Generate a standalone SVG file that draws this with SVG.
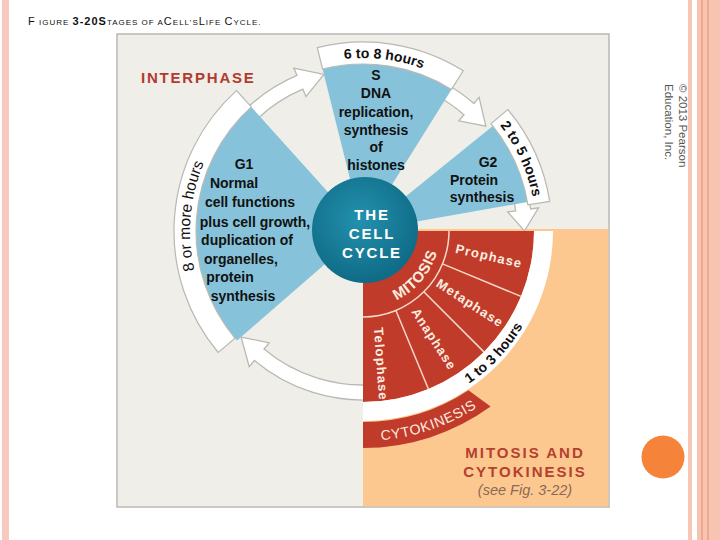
<svg xmlns="http://www.w3.org/2000/svg" width="720" height="540" viewBox="0 0 720 540">
<defs>
<style>
text{font-family:"Liberation Sans",Arial,sans-serif;}
.blk{font-size:14px;font-weight:bold;fill:#111;text-anchor:middle;}
.band{fill:#fff;stroke:#b9b9b3;stroke-width:1.2;}
.arrow{fill:#fff;stroke:#b9b9b3;stroke-width:1.3;stroke-linejoin:miter;}
.blue{fill:#86c3da;}
.red{fill:#c13b2a;}
.ph{font-size:13px;font-weight:bold;fill:#fbeee0;text-anchor:middle;letter-spacing:1.1px;}
.div{stroke:#f3d9c6;stroke-width:1.5;fill:none;}
.hrs{font-size:14px;font-weight:bold;fill:#111;}
.big{font-size:11px;}
.sm{font-size:8px;}
.head{font-size:15px;font-weight:bold;fill:#b5402f;letter-spacing:2px;}
.cc{font-size:15px;font-weight:bold;fill:#fff;text-anchor:middle;letter-spacing:1.8px;}
</style>
<radialGradient id="teal" cx="45%" cy="40%" r="60%">
<stop offset="0" stop-color="#2391ae"/>
<stop offset="1" stop-color="#0f6b86"/>
</radialGradient>
<path id="p8" d="M 213.2 317.5 A 173 173 0 0 1 230.5 119.8"/>
<path id="p6" d="M 295.4 71.8 A 173 173 0 0 1 467.1 92.8"/>
<path id="p2" d="M 462.2 89.3 A 173 173 0 0 1 535.1 249.1"/>
<path id="p1" d="M 395.3 414.2 A 186 186 0 0 0 548.0 250.4"/>
<path id="pM" d="M 376.4 306.8 A 77 77 0 0 0 440 231"/>
<path id="pC" d="M 344.7 440.2 A 210 210 0 0 0 506.2 384.6"/>
</defs>

<rect width="720" height="540" fill="#fff"/>
<!-- side decorations -->
<rect x="2" y="0" width="7" height="540" fill="#f7cabd"/>
<rect x="688" y="0" width="4" height="540" fill="#f7c6b4"/>
<rect x="697" y="0" width="23" height="540" fill="#f8c4b2"/>
<rect x="701" y="0" width="2" height="540" fill="#f0a890"/>
<rect x="707" y="0" width="2" height="540" fill="#f0a890"/>

<!-- title -->
<text x="28" y="25" fill="#111" letter-spacing="1"><tspan class="big">F</tspan><tspan class="sm"> IGURE </tspan><tspan class="big" font-weight="bold">3-20S</tspan><tspan class="sm">TAGES OF A</tspan><tspan class="big">C</tspan><tspan class="sm">ELL’S</tspan><tspan class="big">L</tspan><tspan class="sm">IFE </tspan><tspan class="big">C</tspan><tspan class="sm">YCLE.</tspan></text>

<!-- panel -->
<rect x="117" y="34" width="492" height="473" fill="#efeee8" stroke="#b9b8b2" stroke-width="1.5"/>
<rect x="363" y="229" width="245.3" height="277.3" fill="#fdc88f"/>

<g id="connectors">
<path class="arrow" d="M 245.6 109.4 A 169 169 0 0 1 297.0 75.4 L 293.8 68.1 L 323.9 74.3 L 306.0 96.6 L 302.8 89.2 A 154 154 0 0 0 256.0 120.2 Z"/>
<path class="arrow" d="M 442.3 81.8 A 169 169 0 0 1 473.9 103.5 L 479.1 97.4 L 485.8 126.1 L 458.8 120.8 L 464.0 114.8 A 154 154 0 0 0 435.3 95.0 Z"/>
<path class="arrow" d="M 526.2 187.3 A 169 169 0 0 1 530.6 209.0 L 538.5 207.9 L 524.5 231 L 507.7 212.0 L 515.7 210.9 A 154 154 0 0 0 511.7 191.1 Z"/>
<path class="arrow" d="M 377.7 399.4 A 169 169 0 0 1 254.4 360.5 L 249.2 366.6 L 241.1 337.0 L 269.2 342.8 L 264.0 349.0 A 154 154 0 0 0 376.4 384.4 Z"/>
</g>

<g id="g1">
<path class="blue" d="M 363 231 L 237.0 340.6 A 167 167 0 0 1 251.3 106.9 Z"/>
<path class="band" d="M 218.2 352.5 A 189 189 0 0 1 236.5 90.6 L 251.3 106.9 A 167 167 0 0 0 235.1 338.3 Z"/>
<text font-size="15.5" fill="#111"><textPath href="#p8" startOffset="50%" text-anchor="middle">8 or more hours</textPath></text>
<text class="blk" x="244" y="169">G1</text>
<text class="blk" x="234" y="188">Normal</text>
<text class="blk" x="250" y="207">cell functions</text>
<text class="blk" x="255" y="227">plus cell growth,</text>
<text class="blk" x="247" y="245">duplication of</text>
<text class="blk" x="241" y="264">organelles,</text>
<text class="blk" x="230" y="282">protein</text>
<text class="blk" x="243" y="301">synthesis</text>
</g>

<g id="s">
<path class="blue" d="M 363 231 L 322.6 69.0 A 167 167 0 0 1 451.5 89.4 Z"/>
<path class="band" d="M 317.3 47.6 A 189 189 0 0 1 463.2 70.7 L 451.5 89.4 A 167 167 0 0 0 322.6 69.0 Z"/>
<text class="hrs"><textPath href="#p6" startOffset="50%" text-anchor="middle">6 to 8 hours</textPath></text>
<text class="blk" x="376" y="80">S</text>
<text class="blk" x="376" y="98">DNA</text>
<text class="blk" x="376" y="117">replication,</text>
<text class="blk" x="376" y="135">synthesis</text>
<text class="blk" x="376" y="152">of</text>
<text class="blk" x="376" y="170">histones</text>
</g>

<g id="g2">
<path class="blue" d="M 363 231 L 492.8 125.9 A 167 167 0 0 1 527.5 202.0 Z"/>
<path class="band" d="M 507.8 109.5 A 189 189 0 0 1 549.7 201.4 L 527.9 204.9 A 167 167 0 0 0 490.9 123.7 Z"/>
<text class="hrs"><textPath href="#p2" startOffset="50%" text-anchor="middle">2 to 5 hours</textPath></text>
<text class="blk" x="488" y="167">G2</text>
<text class="blk" x="474" y="185">Protein</text>
<text class="blk" x="482" y="202">synthesis</text>
</g>

<g id="mitosis">
<path class="red" d="M 363 231 L 534 231 A 171 171 0 0 1 363 402 Z"/>
<path fill="#fff" d="M 534 231 L 553 231 A 190 190 0 0 1 363 421 L 363 402 A 171 171 0 0 0 534 231 Z"/>
<path class="div" d="M 449 231 A 86 86 0 0 1 363 317"/>
<path class="div" d="M 442.5 263.9 L 521.0 296.4 M 423.8 291.8 L 483.9 351.9 M 395.9 310.5 L 428.4 389.0"/>
<text class="hrs"><textPath href="#p1" startOffset="50%" text-anchor="middle">1 to 3 hours</textPath></text>
<text font-size="15" font-weight="bold" fill="#fbeee0" letter-spacing="0.5"><textPath href="#pM" startOffset="50%" text-anchor="middle">MITOSIS</textPath></text>
<text class="ph" transform="translate(489,256) rotate(13)" y="4.5">Prophase</text>
<text class="ph" transform="translate(470,303) rotate(33)" y="4.5">Metaphase</text>
<text class="ph" transform="translate(434,339) rotate(57)" y="4.5">Anaphase</text>
<text class="ph" transform="translate(381,364) rotate(86)" y="4.5">Telophase</text>
</g>

<g id="cytokinesis">
<path class="red" d="M 363 448 A 217 217 0 0 0 490.6 406.6 L 468.4 390.3 A 191 191 0 0 1 363 422 Z"/>
<text font-size="14" fill="#fbeee0" letter-spacing="0.8"><textPath href="#pC" startOffset="50%" text-anchor="middle">CYTOKINESIS</textPath></text>
</g>

<g id="cellcycle">
<circle cx="365" cy="230" r="53" fill="url(#teal)"/>
<text class="cc" x="372" y="220">THE</text>
<text class="cc" x="372" y="239">CELL</text>
<text class="cc" x="372" y="258">CYCLE</text>
</g>

<g id="labels">
<text x="141" y="83" font-size="15" font-weight="bold" fill="#b33a2d" letter-spacing="1.8">INTERPHASE</text>
<text class="head" x="525" y="458" text-anchor="middle">MITOSIS AND</text>
<text class="head" x="525" y="477" text-anchor="middle">CYTOKINESIS</text>
<text x="525" y="495" font-size="14.5" font-style="italic" fill="#8a6a55" text-anchor="middle">(see Fig. 3-22)</text>
<text transform="translate(679,84) rotate(90)" font-size="11.5" fill="#555"><tspan x="0" y="0">© 2013 Pearson</tspan><tspan x="0" y="14">Education, Inc.</tspan></text>
</g>
<circle id="dot" cx="663" cy="457" r="21.5" fill="#f5843a"/>
</svg>
